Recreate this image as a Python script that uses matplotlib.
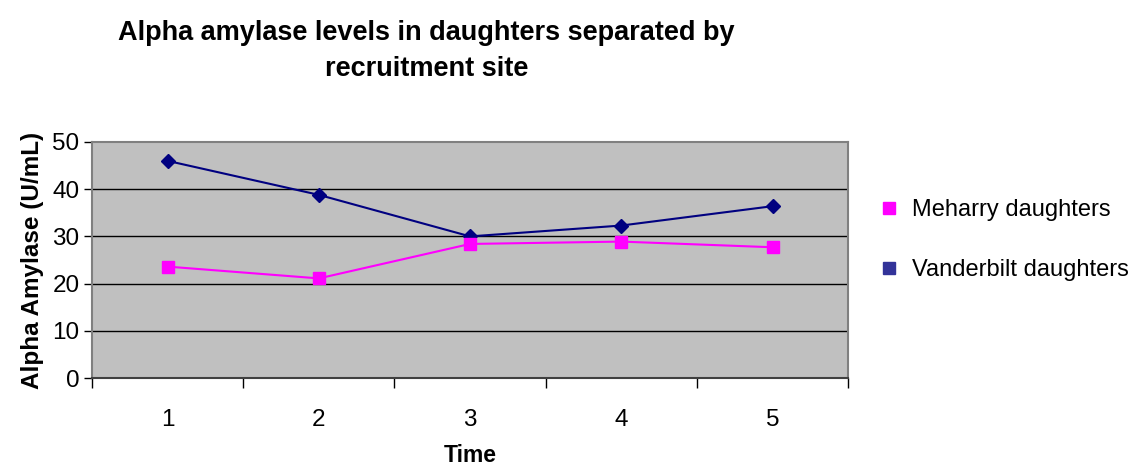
import matplotlib.pyplot as plt
from matplotlib.lines import Line2D

plt.rcParams['font.family'] = ['Liberation Sans', 'DejaVu Sans']

time_points = [1, 2, 3, 4, 5]
tick_labels = ['1', '2', '3', '4', '5']
meharry = [23.6, 21.1, 28.4, 28.9, 27.7]
vanderbilt = [46.0, 38.8, 30.0, 32.3, 36.4]

fig = plt.figure(figsize=(11.44, 4.68), dpi=100)
ax = fig.add_axes([0.0804, 0.1923, 0.661, 0.5043])
ax.set_facecolor('#C0C0C0')

ax.plot(time_points, vanderbilt, color='#000080', lw=1.5, marker='D',
        markersize=7, zorder=3)
ax.plot(time_points, meharry, color='#FF00FF', lw=1.5, marker='s',
        markersize=8, zorder=3)

ax.set_xlim(0.5, 5.5)
ax.set_ylim(0, 50)
ax.set_yticks(range(0, 51, 10))
for v in range(10, 50, 10):
    ax.axhline(v, color='black', lw=1, zorder=1)

# category axis: ticks between categories, labels at the centres
ax.set_xticks([0.5, 1.5, 2.5, 3.5, 4.5, 5.5])
ax.set_xticklabels([])
ax.set_xticks(time_points, minor=True)
ax.set_xticklabels(tick_labels, minor=True)
ax.tick_params(axis='x', which='minor', length=0, pad=22, labelsize=17.5)
ax.tick_params(axis='x', which='major', length=7, width=1, direction='out')
ax.tick_params(axis='y', length=6, width=1, direction='out', labelsize=17.5, pad=3)

for side in ['top', 'right', 'left']:
    ax.spines[side].set_color('#808080')
    ax.spines[side].set_linewidth(1.5)
ax.spines['bottom'].set_color('#404040')
ax.spines['bottom'].set_linewidth(1.5)

ax.set_xlabel('Time', fontsize=16.5, fontweight='bold', labelpad=10)
ax.set_ylabel('Alpha Amylase (U/mL)', fontsize=17.5, fontweight='bold', labelpad=6)

fig.text(0.373, 0.958, 'Alpha amylase levels in daughters separated by\nrecruitment site',
         ha='center', va='top', fontsize=19.5, fontweight='bold', linespacing=1.5)

handles = [
    Line2D([], [], ls='none', marker='s', color='#FF00FF', markersize=8),
    Line2D([], [], ls='none', marker='s', color='#333399', markersize=8),
]
fig.legend(handles, ['Meharry daughters', 'Vanderbilt daughters'],
           loc='center left', bbox_to_anchor=(0.750, 0.487), frameon=False,
           fontsize=17, handletextpad=0.6, labelspacing=1.6, handlelength=0.8)

fig.savefig('out.png', dpi=100)
